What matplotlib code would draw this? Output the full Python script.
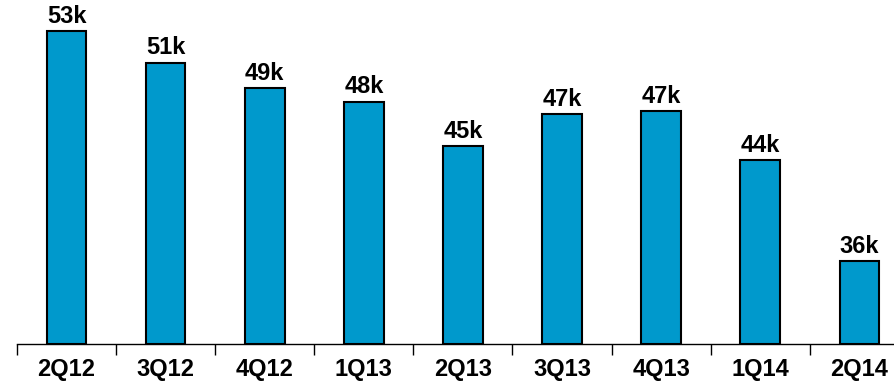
import matplotlib
matplotlib.use("Agg")
import matplotlib.pyplot as plt
from matplotlib.ticker import FixedLocator

categories = ["2Q12", "3Q12", "4Q12", "1Q13", "2Q13", "3Q13", "4Q13", "1Q14", "2Q14"]
values = [53.1, 50.8, 48.9, 47.9, 44.6, 47.0, 47.2, 43.6, 36.1]
labels = ["53k", "51k", "49k", "48k", "45k", "47k", "47k", "44k", "36k"]

plt.rcParams['font.family'] = ['Liberation Sans', 'DejaVu Sans']

W, H = 895, 383
fig = plt.figure(figsize=(W / 100, H / 100), dpi=100)
ax = fig.add_axes([17 / W, (H - 344) / H, (W - 17) / W, 344 / H])

x = list(range(len(categories)))
ax.bar(x, [v - 30 for v in values], bottom=30, width=0.4, color="#0099CC",
       edgecolor="black", linewidth=1.5, zorder=3)
for xi, v, lab in zip(x, values, labels):
    ax.annotate(lab, (xi, v), xytext=(0, 2.5), textcoords="offset points",
                ha="center", va="bottom", fontsize=17, fontweight="bold")

ax.set_xlim(-0.5, 8.36)
ax.set_ylim(30, 30 + 344 / 13.53)
ax.set_xticks(x)
ax.set_xticklabels(categories, fontsize=17, fontweight="bold")
ax.tick_params(axis="x", which="major", length=0, pad=10)
ax.xaxis.set_minor_locator(FixedLocator([i - 0.5 for i in range(len(categories))]))
ax.tick_params(axis="x", which="minor", length=8, width=1, color="black")
ax.set_yticks([])
for s in ["left", "right", "top"]:
    ax.spines[s].set_visible(False)
ax.spines["bottom"].set_linewidth(1)

fig.savefig("out.png", dpi=100)
